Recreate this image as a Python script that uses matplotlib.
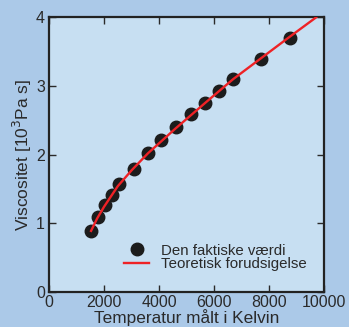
import matplotlib
matplotlib.use("Agg")
import matplotlib.pyplot as plt

temp_K = [1530, 1790, 2040, 2300, 2555, 3080, 3600, 4070, 4610, 5150, 5660, 6170, 6680, 7710, 8750]
visc = [0.887, 1.087, 1.261, 1.411, 1.571, 1.785, 2.026, 2.207, 2.396, 2.589, 2.759, 2.928, 3.098, 3.389, 3.699]

# theoretical curve, sampled by eye
theory_K = [1530, 1750, 2000, 2500, 3000, 3600, 4600, 5700, 6700, 7700, 8700, 9720]
theory_visc = [0.89, 1.07, 1.24, 1.54, 1.77, 2.02, 2.38, 2.76, 3.10, 3.40, 3.70, 4.0]

xticks = [0, 2000, 4000, 6000, 8000, 10000]
yticks = [0, 1, 2, 3, 4]

plt.rcParams['font.family'] = ['Liberation Sans', 'DejaVu Sans']
txt = '#2a2a2a'

fig = plt.figure(figsize=(3.49, 3.27), dpi=100, facecolor='#abc9e8')
ax = fig.add_axes([0.1404, 0.107, 0.7876, 0.84])
ax.set_facecolor('#c7dff2')

ax.plot(temp_K, visc, 'o', color='#1c1c1c', markersize=9, label='Den faktiske værdi', zorder=3)
ax.plot(theory_K, theory_visc, '-', color='#ee2226', lw=1.7, label='Teoretisk forudsigelse', zorder=4)

ax.set_xlim(0, 10000)
ax.set_ylim(0, 4)
ax.set_xticks(xticks)
ax.set_yticks(yticks)
ax.tick_params(direction='in', length=5, width=1, top=True, right=True,
               labelsize=11.5, colors=txt)
ax.tick_params(axis='x', pad=2)
ax.tick_params(axis='y', pad=3)
for s in ax.spines.values():
    s.set_linewidth(1.6)
    s.set_color('#222222')

ax.set_xlabel('Temperatur målt i Kelvin', fontsize=12.4, color=txt, labelpad=-0.5)
ax.set_ylabel('Viscositet [10$^3$Pa s]', fontsize=12.5, color=txt)
ax.yaxis.set_label_coords(-0.055, 0.5)

ax.legend(loc='lower left', bbox_to_anchor=(0.245, 0.05), frameon=False,
          fontsize=10.8, handlelength=1.7, handletextpad=0.8, labelspacing=-0.05,
          borderpad=0, labelcolor=txt)

fig.savefig('out.png', dpi=100, facecolor=fig.get_facecolor())
